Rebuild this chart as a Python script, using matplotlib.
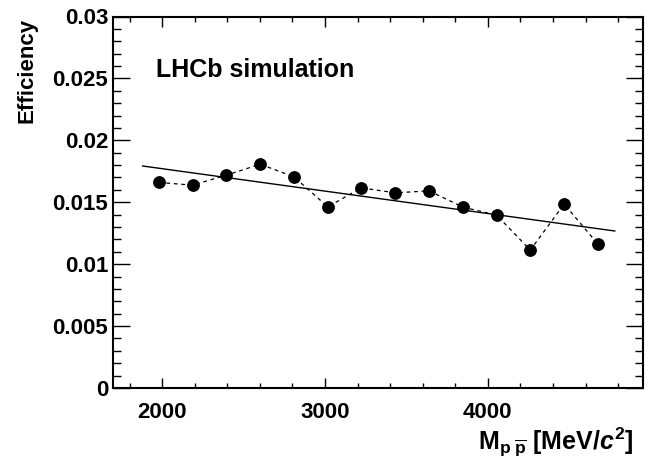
import matplotlib
matplotlib.use("Agg")
import matplotlib.pyplot as plt
from matplotlib.ticker import MultipleLocator
import numpy as np

# ---- data ----
mass = [1980, 2187, 2395, 2602, 2810, 3017, 3224, 3432, 3639, 3847, 4054, 4261, 4469, 4676]
efficiency = [0.01660, 0.01638, 0.01719, 0.01807, 0.01705, 0.01463, 0.01616,
              0.01576, 0.01592, 0.01461, 0.01396, 0.01114, 0.01485, 0.01163]
fit_intercept = 0.02133
fit_slope = -1.810e-6
fit_range = [1880, 4780]

plt.rcParams['font.family'] = ['Liberation Sans', 'DejaVu Sans']
plt.rcParams['font.weight'] = 'bold'
plt.rcParams['mathtext.fontset'] = 'custom'
plt.rcParams['mathtext.rm'] = 'Liberation Sans:bold'
plt.rcParams['mathtext.bf'] = 'Liberation Sans:bold'
plt.rcParams['mathtext.it'] = 'Liberation Sans:bold:italic'
plt.rcParams['mathtext.default'] = 'rm'

fig = plt.figure(figsize=(6.46, 4.63), dpi=100)
ax = fig.add_axes([113.3/646, 1-388/463, (642.5-113.3)/646, (388-16.5)/463])

fx = np.array(fit_range, dtype=float)
ax.plot(fx, fit_intercept + fit_slope*fx, color='black', lw=1.0)
ax.plot(mass, efficiency, color='black', lw=0.9, ls=(0, (3, 3)),
        marker='o', markersize=8.2, markerfacecolor='black', markeredgecolor='black')

ax.set_xlim(1700, 4950)
ax.set_ylim(0, 0.03)
ax.xaxis.set_major_locator(MultipleLocator(1000))
ax.xaxis.set_minor_locator(MultipleLocator(200))
ax.yaxis.set_major_locator(MultipleLocator(0.005))
ax.yaxis.set_minor_locator(MultipleLocator(0.001))
ax.set_yticks([0, 0.005, 0.01, 0.015, 0.02, 0.025, 0.03])
ax.set_yticklabels(['0', '0.005', '0.01', '0.015', '0.02', '0.025', '0.03'])
ax.set_xticks([2000, 3000, 4000])
ax.set_xticklabels(['2000', '3000', '4000'])

for sp in ax.spines.values():
    sp.set_linewidth(1.5)

ax.tick_params(axis='x', which='major', direction='in', length=7.5, width=1.0,
               top=True, bottom=True, labelsize=16, pad=10)
ax.tick_params(axis='x', which='minor', direction='in', length=3.6, width=1.0,
               top=True, bottom=True)
ax.tick_params(axis='y', which='major', direction='in', length=12, width=1.0,
               left=True, right=True, labelsize=16, pad=3.6)
ax.tick_params(axis='y', which='minor', direction='in', length=6, width=1.0,
               left=True, right=True)
for lbl in ax.get_xticklabels() + ax.get_yticklabels():
    lbl.set_fontweight('bold')

ax.text((156-113.3)/529.2, (388-77.3)/371.5, 'LHCb simulation', transform=ax.transAxes,
        fontsize=18, fontweight='bold', ha='left', va='baseline')

fig.text(27/646, 1-18/463, 'Efficiency', rotation=90, ha='center', va='top',
         fontsize=16, fontweight='bold')
fig.text(633/646, 1-450/463,
         r'M$_{\mathrm{p}\;\overline{\mathrm{p}}}$ [MeV/$\mathit{c}^{2}$]',
         ha='right', va='baseline', fontsize=18, fontweight='bold')

fig.savefig('out.png', dpi=100)
